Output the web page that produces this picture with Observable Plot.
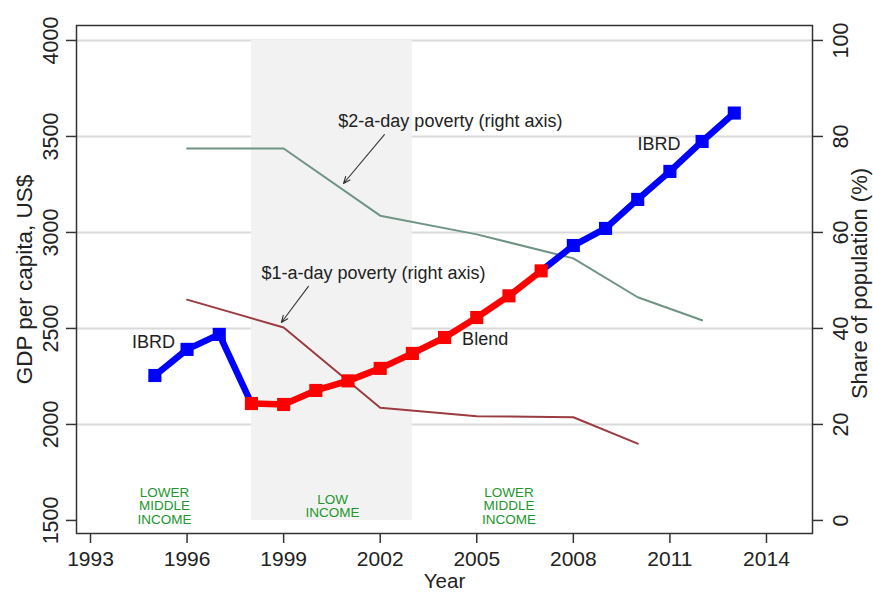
<!DOCTYPE html>
<html><head><meta charset="utf-8">
<script src="https://cdn.jsdelivr.net/npm/d3@7"></script>
<script src="https://cdn.jsdelivr.net/npm/@observablehq/plot@0.6"></script>
<style>body{margin:0;background:#fff}</style>
</head><body><div id="chart"></div>
<script>
// GDP per capita (left axis) and lending status
const gdpYears = [1995,1996,1997,1998,1999,2000,2001,2002,2003,2004,2005,2006,2007,2008,2009,2010,2011,2012,2013];
const gdpValues = [2255,2391,2469,2109,2104,2177,2227,2292,2370,2453,2557,2670,2800,2932,3021,3172,3318,3474,3622];
const lending = ["IBRD","IBRD","IBRD","Blend","Blend","Blend","Blend","Blend","Blend","Blend","Blend","Blend","Blend","IBRD","IBRD","IBRD","IBRD","IBRD","IBRD"];

// Poverty shares (right axis, %)
const pov2Years = [1996,1999,2002,2005,2008,2010,2012];
const pov2Values = [77.5,77.5,63.5,59.6,54.6,46.5,41.7];
const pov1Years = [1996,1999,2002,2005,2008,2010];
const pov1Values = [46.0,40.2,23.5,21.7,21.5,16.0];

// Axes
const xTicks = [1993,1996,1999,2002,2005,2008,2011,2014];
const yTicks = [1500,2000,2500,3000,3500,4000];
const gridTicks = [2000,2500,3000,3500,4000];
const shareTicks = [0,20,40,60,80,100];

// Income-group periods
const periodLabel = ["LOWER\nMIDDLE\nINCOME", "LOW\nINCOME", "LOWER\nMIDDLE\nINCOME"];
const periodLabelYear = [1995.3, 2000.52, 2006.0];
const shadedStart = [1998];
const shadedEnd = [2003];

// Annotations
const noteText = ["$2-a-day poverty (right axis)", "$1-a-day poverty (right axis)"];
const noteX = [2004.18, 2001.79];
const noteY = [3578, 2786];
const arrowX1 = [2002.13, 1999.77];
const arrowY1 = [3510, 2719];
const arrowX2 = [2000.86, 1998.93];
const arrowY2 = [3255, 2531];
const seriesLabel = ["IBRD", "IBRD", "Blend"];
const seriesLabelX = [1994.96, 2010.66, 2005.26];
const seriesLabelY = [2427, 3458, 2443];

// Share (0-100) maps to the left GDP axis (1500-4000)
const shareToGdp = s => 1500 + s * 25;

const gdp = gdpYears.map((year, i) => ({year, value: gdpValues[i], status: lending[i]}));
const blueSeg = [
  ...gdp.filter(d => d.year >= 1995 && d.year <= 1998).map(d => ({...d, seg: "a"})),
  ...gdp.filter(d => d.year >= 2007).map(d => ({...d, seg: "b"}))
];
const redSeg = gdp.filter(d => d.status === "Blend");
const blueDots = gdp.filter(d => d.status === "IBRD");

const pov2 = pov2Years.map((year, i) => ({year, value: shareToGdp(pov2Values[i])}));
const pov1 = pov1Years.map((year, i) => ({year, value: shareToGdp(pov1Values[i])}));

const shaded = shadedStart.map((s, i) => ({start: s, end: shadedEnd[i], lo: yTicks[0], hi: yTicks[yTicks.length - 1]}));
const periods = periodLabel.map((t, i) => ({text: t, year: periodLabelYear[i], y: 1575}));
const notes = noteText.map((t, i) => ({text: t, x: noteX[i], y: noteY[i]}));
const arrows = arrowX1.map((x1, i) => ({x1, y1: arrowY1[i], x2: arrowX2[i], y2: arrowY2[i]}));
const labels = seriesLabel.map((t, i) => ({text: t, x: seriesLabelX[i], y: seriesLabelY[i]}));
const shareTickData = shareTicks.map(s => ({s, y: shareToGdp(s)}));

const font = "'Liberation Sans', Arial, sans-serif";
const ink = "#222";
const mid = {textAnchor: "middle", lineAnchor: "middle"};

const chart = Plot.plot({
  width: 873,
  height: 592,
  marginLeft: 76,
  marginRight: 61,
  marginTop: 25,
  marginBottom: 59,
  style: {fontFamily: font, background: "#fff", color: ink},
  x: {domain: [1992.565, 2015.43], label: null},
  y: {domain: [1432, 4078], label: null},
  marks: [
    Plot.ruleY(gridTicks, {stroke: "#dadada", strokeWidth: 2}),
    Plot.rect(shaded, {x1: "start", x2: "end", y1: "lo", y2: "hi", fill: "#f2f2f2"}),
    // axis tick marks
    Plot.axisX({ticks: xTicks, tickSize: 10, tickFormat: () => "", label: null, stroke: "#333", strokeWidth: 1.5}),
    Plot.axisY({ticks: yTicks, tickSize: 10, tickFormat: () => "", label: null, anchor: "left", stroke: "#333", strokeWidth: 1.5}),
    Plot.axisY({ticks: shareTickData.map(d => d.y), tickSize: 10, tickFormat: () => "", label: null, anchor: "right", stroke: "#333", strokeWidth: 1.5}),
    // tick labels
    Plot.text(xTicks, {x: d => d, text: d => String(d), frameAnchor: "bottom", dy: 25.5, fontSize: 21, fill: ink, ...mid}),
    Plot.text(yTicks, {y: d => d, text: d => String(d), frameAnchor: "left", dx: -25, rotate: -90, fontSize: 21.5, fill: ink, ...mid}),
    Plot.text(shareTickData, {y: "y", text: d => String(d.s), frameAnchor: "right", dx: 29, rotate: -90, fontSize: 21.5, fill: ink, ...mid}),
    // axis titles
    Plot.text(["GDP per capita, US$"], {text: d => d, frameAnchor: "left", dx: -52, rotate: -90, fontSize: 22.5, fill: ink, ...mid}),
    Plot.text(["Share of population (%)"], {text: d => d, frameAnchor: "right", dx: 47, dy: 4, rotate: -90, fontSize: 22, fill: ink, ...mid}),
    Plot.text(["Year"], {text: d => d, frameAnchor: "bottom", dy: 48.3, fontSize: 20.5, fill: ink, ...mid}),
    // poverty lines
    Plot.line(pov2, {x: "year", y: "value", stroke: "#6f9484", strokeWidth: 2}),
    Plot.line(pov1, {x: "year", y: "value", stroke: "#9a3c42", strokeWidth: 2}),
    // GDP lines
    Plot.line(blueSeg, {x: "year", y: "value", z: "seg", stroke: "#0000ff", strokeWidth: 6.5}),
    Plot.line(redSeg, {x: "year", y: "value", stroke: "#ff0000", strokeWidth: 6.5}),
    Plot.dot(blueDots, {x: "year", y: "value", symbol: "square", r: 7.4, fill: "#0000ff"}),
    Plot.dot(redSeg, {x: "year", y: "value", symbol: "square", r: 7.4, fill: "#ff0000"}),
    // annotations
    Plot.arrow(arrows, {x1: "x1", y1: "y1", x2: "x2", y2: "y2", stroke: "#333", strokeWidth: 1.1, headLength: 10, headAngle: 45}),
    Plot.text(notes, {x: "x", y: "y", text: "text", fontSize: 18, fill: ink}),
    Plot.text(labels, {x: "x", y: "y", text: "text", fontSize: 18, fill: ink}),
    Plot.text(periods, {x: "year", y: "y", text: "text", fontSize: 13.5, lineHeight: 1.0, fill: "#22962e"}),
    Plot.frame({stroke: "#333", strokeWidth: 1.5})
  ]
});
document.getElementById("chart").append(chart);
</script>
</body></html>
